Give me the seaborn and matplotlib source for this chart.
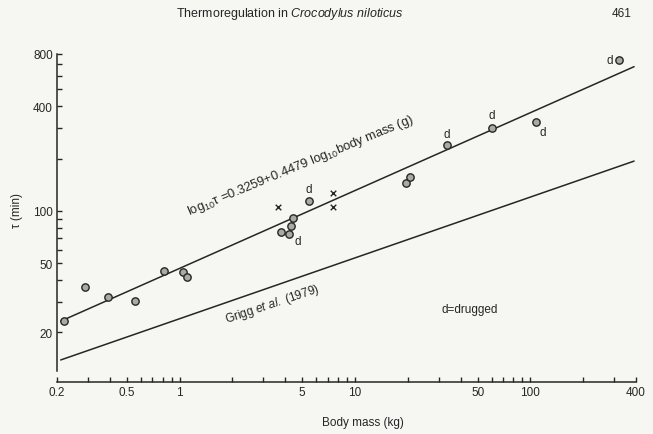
import numpy as np
import pandas as pd
import matplotlib
matplotlib.use("Agg")
import matplotlib.pyplot as plt
import seaborn as sns
from matplotlib.ticker import FixedLocator, FixedFormatter, NullFormatter

# Time constant of heating/cooling against body mass, Nile crocodile
mass_circle = [0.22, 0.29, 0.39, 0.555, 0.82, 1.04, 1.10, 3.8, 4.22, 4.33, 4.44,
               5.48, 19.5, 20.5, 33.3, 60.0, 107.0, 321.0]
tau_circle = [23.4, 36.7, 32.1, 30.4, 45.3, 44.6, 41.8, 75.9, 74.0, 82.0, 91.0,
              114.0, 145.0, 157.0, 240.0, 301.0, 325.0, 739.0]
drugged = [False, False, False, False, False, False, False, False, True, False, False,
           True, False, False, True, True, True, True]

mass_cross = [3.65, 7.5, 7.5]
tau_cross = [106.0, 127.0, 106.0]

# log10 tau = a + b * log10 mass(g)
reg_intercept, reg_slope = 0.3259, 0.4479
grigg_intercept, grigg_slope = 0.330, 0.350
line_mass = [0.21, 390.0]

x_major = [0.2, 0.5, 1, 5, 10, 50, 100, 400]
x_major_labels = ["0.2", "0.5", "1", "5", "10", "50", "100", "400"]
x_minor = [0.3, 0.4, 0.6, 0.7, 0.8, 0.9, 2, 3, 4, 6, 7, 8, 9,
           20, 30, 40, 60, 70, 80, 90, 200, 300]
y_major = [20, 50, 100, 400, 800]
y_major_labels = ["20", "50", "100", "400", "800"]
y_minor = [30, 40, 60, 70, 80, 90, 200, 300, 500, 600, 700]

sns.set_theme(style="ticks")
plt.rcParams["font.family"] = ["Liberation Sans", "DejaVu Sans"]
plt.rcParams["mathtext.fontset"] = "custom"
plt.rcParams["mathtext.rm"] = "Liberation Sans"
plt.rcParams["mathtext.it"] = "Liberation Sans:italic"

ink = "#262626"
paper = "#f6f6f3"

fig = plt.figure(figsize=(6.53, 4.35), dpi=100, facecolor=paper)
ax = fig.add_axes([0.0873, 0.1448, 0.8867, 0.7288])
ax.set_facecolor(paper)
ax.set_xscale("log")
ax.set_yscale("log")

# fitted regression and Grigg et al. (1979)
lm = np.array(line_mass)
lines = pd.DataFrame({
    "mass": np.concatenate([lm, lm]),
    "tau": np.concatenate([
        10 ** (reg_intercept + reg_slope * np.log10(lm * 1000)),
        10 ** (grigg_intercept + grigg_slope * np.log10(lm * 1000)),
    ]),
    "source": ["this study"] * 2 + ["Grigg"] * 2,
})
sns.lineplot(data=lines, x="mass", y="tau", units="source", estimator=None,
             color=ink, linewidth=1.1, ax=ax, legend=False)

pts = pd.DataFrame({"mass": mass_circle, "tau": tau_circle, "drugged": drugged})
sns.scatterplot(data=pts, x="mass", y="tau", marker="o", s=28,
                facecolor="#a9a9a6", edgecolor=ink, linewidth=1.0, ax=ax,
                zorder=3, legend=False)
crosses = pd.DataFrame({"mass": mass_cross, "tau": tau_cross})
sns.scatterplot(data=crosses, x="mass", y="tau", marker="x", s=16,
                color=ink, linewidth=1.0, ax=ax, zorder=3, legend=False)

# "d" beside drugged animals
d_offsets = [(6, -5), (0, 9), (0, 8), (0, 9), (5, -7), (-7, 0)]
for (m, t), off in zip(pts.loc[pts.drugged, ["mass", "tau"]].values, d_offsets):
    ax.annotate("d", (m, t), xytext=off, textcoords="offset points",
                ha="center", va="center", fontsize=8.5, color=ink)

ax.text(4.9, 184, r"log$_{10}$τ =0.3259+0.4479 log$_{10}$body mass (g)",
        rotation=22.5, rotation_mode="anchor", ha="center", va="center",
        fontsize=9.3, color=ink)
ax.text(3.37, 29.3, r"Grigg $\it{et\ al.}$ (1979)", rotation=18.5,
        rotation_mode="anchor", ha="center", va="center", fontsize=8.6, color=ink)
ax.text(45, 27.4, "d=drugged", ha="center", va="center", fontsize=8.5, color=ink)

ax.set_xlim(0.2, 400)
ax.set_ylim(12, 800)

ax.xaxis.set_major_locator(FixedLocator(x_major))
ax.xaxis.set_major_formatter(FixedFormatter(x_major_labels))
ax.xaxis.set_minor_locator(FixedLocator(x_minor))
ax.xaxis.set_minor_formatter(NullFormatter())
ax.yaxis.set_major_locator(FixedLocator(y_major))
ax.yaxis.set_major_formatter(FixedFormatter(y_major_labels))
ax.yaxis.set_minor_locator(FixedLocator(y_minor))
ax.yaxis.set_minor_formatter(NullFormatter())

for which in ("major", "minor"):
    ax.tick_params(axis="both", which=which, direction="in", length=3.8,
                   width=1.0, color=ink, labelsize=8.5, labelcolor=ink, pad=3)

sns.despine(ax=ax)
ax.spines["bottom"].set_position(("outward", 8))
for side in ("left", "bottom"):
    ax.spines[side].set_color(ink)
    ax.spines[side].set_linewidth(1.1)

ax.set_xlabel("Body mass (kg)", fontsize=8.5, color=ink)
ax.set_ylabel("τ (min)", fontsize=8.5, color=ink)
ax.xaxis.set_label_coords(0.528, -0.142)
ax.yaxis.set_label_coords(-0.058, 0.51)

fig.text(0.443, 0.968, r"Thermoregulation in $\it{Crocodylus\ niloticus}$",
         ha="center", va="center", fontsize=9, color=ink)
fig.text(0.952, 0.968, "461", ha="center", va="center", fontsize=8.5, color=ink)

fig.savefig("out.png", dpi=100, facecolor=paper)
